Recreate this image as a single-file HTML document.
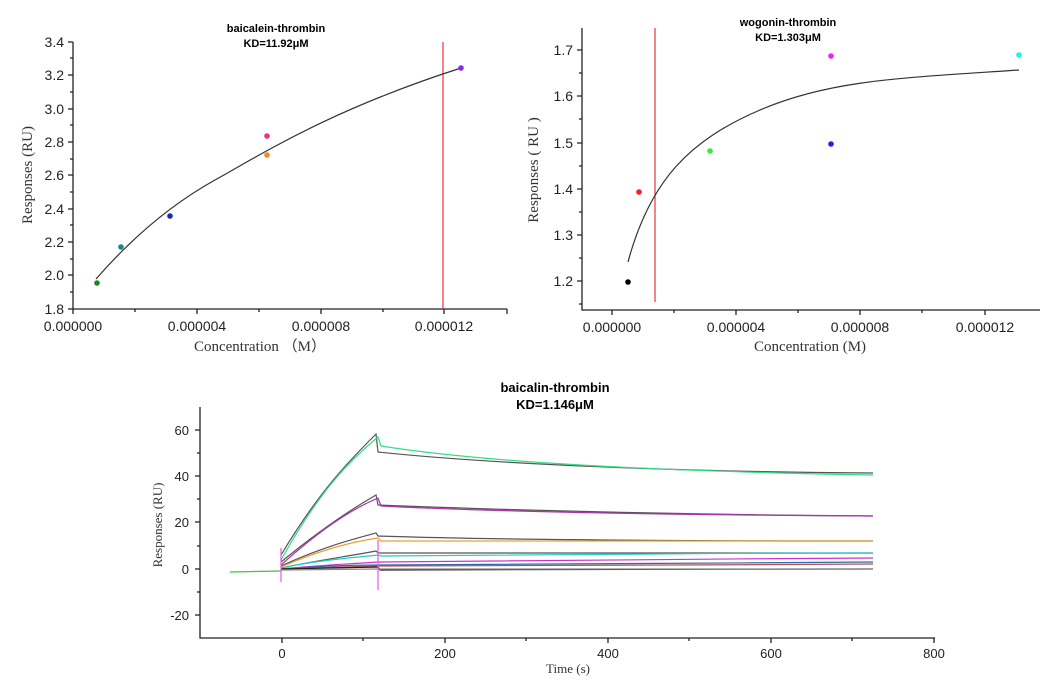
<!DOCTYPE html><html><head><style>body{margin:0;background:#fff}svg{display:block}</style></head><body>
<svg width="1052" height="681" viewBox="0 0 1052 681" xmlns="http://www.w3.org/2000/svg" font-family="Liberation Sans, sans-serif">
<!-- Chart 1 -->
<g stroke="#222" stroke-width="1.3" fill="none">
<path d="M73 42V309H507"/>
<path d="M73 42h-5M73 75h-5M73 109h-5M73 142h-5M73 175h-5M73 209h-5M73 242h-5M73 275h-5M73 309h-5"/>
<path d="M73 58h-3M73 92h-3M73 125h-3M73 159h-3M73 192h-3M73 225h-3M73 259h-3M73 292h-3"/>
<path d="M73 309v5M197 309v5M321 309v5M444 309v5M507 309v5M135 309v3M259 309v3M383 309v3"/>
</g>
<g font-size="14" fill="#222" text-anchor="end">
<text x="64" y="47">3.4</text><text x="64" y="80">3.2</text><text x="64" y="114">3.0</text><text x="64" y="147">2.8</text><text x="64" y="180">2.6</text><text x="64" y="214">2.4</text><text x="64" y="247">2.2</text><text x="64" y="280">2.0</text><text x="64" y="314">1.8</text>
</g>
<g font-size="14" fill="#222" text-anchor="middle">
<text x="73" y="331">0.000000</text><text x="197" y="331">0.000004</text><text x="321" y="331">0.000008</text><text x="444" y="331">0.000012</text>
</g>
<text x="260" y="351" font-family="Liberation Serif, serif" font-size="15" text-anchor="middle" fill="#333">Concentration （M）</text>
<text transform="translate(32 175) rotate(-90)" font-family="Liberation Serif, serif" font-size="15" text-anchor="middle" fill="#333">Responses (RU)</text>
<text x="276" y="32" font-size="11" font-weight="bold" text-anchor="middle">baicalein-thrombin</text>
<text x="276" y="47" font-size="11" font-weight="bold" text-anchor="middle">KD=11.92μM</text>
<line x1="443" y1="42" x2="443" y2="309" stroke="#e33" stroke-width="1.2"/>
<path d="M96 279C130 240 170 205 215 180S330 110 461 68" stroke="#333" stroke-width="1.2" fill="none"/>
<circle cx="97" cy="283" r="2.8" fill="#1a8a1a"/><circle cx="121" cy="247" r="2.8" fill="#1a8a80"/><circle cx="170" cy="216" r="2.8" fill="#1a2aaa"/><circle cx="267" cy="136" r="2.8" fill="#f0307a"/><circle cx="267" cy="155" r="2.8" fill="#f08a20"/><circle cx="461" cy="68" r="2.8" fill="#8a2af0"/>
<!-- Chart 2 -->
<g stroke="#222" stroke-width="1.3" fill="none">
<path d="M582 28V310H1040"/>
<path d="M582 50h-5M582 96h-5M582 143h-5M582 189h-5M582 235h-5M582 281h-5M582 73h-3M582 119h-3M582 166h-3M582 212h-3M582 258h-3M582 304h-3"/>
<path d="M612 310v5M736 310v5M860 310v5M985 310v5M674 310v3M798 310v3M922 310v3"/>
</g>
<g font-size="14" fill="#222" text-anchor="end">
<text x="573" y="55">1.7</text><text x="573" y="101">1.6</text><text x="573" y="148">1.5</text><text x="573" y="194">1.4</text><text x="573" y="240">1.3</text><text x="573" y="286">1.2</text>
</g>
<g font-size="14" fill="#222" text-anchor="middle">
<text x="612" y="332">0.000000</text><text x="736" y="332">0.000004</text><text x="860" y="332">0.000008</text><text x="985" y="332">0.000012</text>
</g>
<text x="810" y="351" font-family="Liberation Serif, serif" font-size="15" text-anchor="middle" fill="#333">Concentration (M)</text>
<text transform="translate(538 170) rotate(-90)" font-family="Liberation Serif, serif" font-size="15" text-anchor="middle" fill="#333">Responses  ( RU )</text>
<text x="788" y="26" font-size="11" font-weight="bold" text-anchor="middle">wogonin-thrombin</text>
<text x="788" y="41" font-size="11" font-weight="bold" text-anchor="middle">KD=1.303μM</text>
<line x1="655" y1="28" x2="655" y2="302" stroke="#e33" stroke-width="1.2"/>
<path d="M628 262C650 180 690 140 760 110S900 78 1019 70" stroke="#333" stroke-width="1.2" fill="none"/>
<circle cx="628" cy="282" r="2.8" fill="#000"/><circle cx="639" cy="192" r="2.8" fill="#e22"/><circle cx="710" cy="151" r="2.8" fill="#3e3"/><circle cx="831" cy="56" r="2.8" fill="#e2e"/><circle cx="831" cy="144" r="2.8" fill="#22d"/><circle cx="1019" cy="55" r="2.8" fill="#2ee"/>
<!-- Chart 3 -->
<g stroke="#222" stroke-width="1.3" fill="none">
<path d="M200 407V638H935"/>
<path d="M200 430h-5M200 476h-5M200 522h-5M200 569h-5M200 615h-5M200 453h-3M200 499h-3M200 546h-3M200 592h-3"/>
<path d="M282 638v5M445 638v5M608 638v5M771 638v5M934 638v5M363 638v3M526 638v3M689 638v3M852 638v3"/>
</g>
<g font-size="13" fill="#222" text-anchor="end">
<text x="189" y="435">60</text><text x="189" y="481">40</text><text x="189" y="527">20</text><text x="189" y="574">0</text><text x="189" y="620">-20</text>
</g>
<g font-size="13" fill="#222" text-anchor="middle">
<text x="282" y="658">0</text><text x="445" y="658">200</text><text x="608" y="658">400</text><text x="771" y="658">600</text><text x="934" y="658">800</text>
</g>
<text x="568" y="673" font-family="Liberation Serif, serif" font-size="13" text-anchor="middle" fill="#333">Time (s)</text>
<text transform="translate(162 525) rotate(-90)" font-family="Liberation Serif, serif" font-size="13" text-anchor="middle" fill="#333">Responses (RU)</text>
<text x="555" y="392" font-size="13" font-weight="bold" text-anchor="middle">baicalin-thrombin</text>
<text x="555" y="409" font-size="13" font-weight="bold" text-anchor="middle">KD=1.146μM</text>
<g fill="none" stroke-width="1.2">
<path d="M230 572L281 571" stroke="#3c3"/>
<path d="M281 555C320 490 350 460 376 434L378 452C500 465 700 472 873 473" stroke="#555"/>
<path d="M281 560C320 490 350 460 378 437L381 446C500 465 700 472 873 475" stroke="#3d8"/>
<path d="M281 562C320 530 350 510 376 495L378 505C500 510 700 515 873 516" stroke="#555"/>
<path d="M281 565C320 530 350 510 378 498L381 506C500 512 700 515 873 516" stroke="#a3a"/>
<path d="M281 566C320 548 350 540 376 533L378 536C500 540 700 541 873 541" stroke="#555"/>
<path d="M281 567C320 550 350 542 378 538L381 541C500 541 700 541 873 541" stroke="#e9a030"/>
<path d="M281 568C320 560 350 556 376 551L378 553C500 553 700 553 873 553" stroke="#555"/>
<path d="M281 568C320 560 350 558 378 555L381 556C500 555 700 553 873 553" stroke="#2cc"/>
<path d="M281 569C320 565 350 564 378 562C500 561 700 559 873 558" stroke="#c3c"/>
<path d="M281 569C320 566 350 565 378 565C500 565 700 563 873 562" stroke="#36a"/>
<path d="M281 569C320 567 350 567 378 566C500 566 700 565 873 564" stroke="#a55"/>
<path d="M281 569L378 567L380 570C500 570 700 569 873 569" stroke="#222"/>
<path d="M281 570L378 569C500 569 700 569 873 569" stroke="#888"/>
<path d="M281 548V582M378 540V590" stroke="#e5e"/>
</g>
</svg>
</body></html>
